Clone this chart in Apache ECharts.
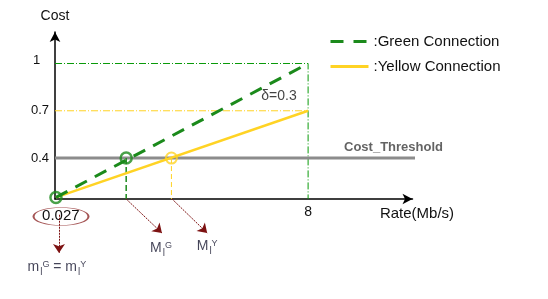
<!DOCTYPE html>
<html>
<head>
<meta charset="utf-8">
<script src="https://cdn.jsdelivr.net/npm/echarts@6/dist/echarts.min.js"></script>
<style>html,body{margin:0;padding:0;background:#fff}#c{width:548px;height:299px}</style>
</head>
<body>
<div id="c"></div>
<script>
// ---- data ----
const xTickValues = [0.027, 8];
const yTickValues = [0.4, 0.7, 1];
const seriesNames = ['Green Connection', 'Yellow Connection'];
const greenLine = [[0.03, 0.15], [8, 1]];
const yellowLine = [[0.03, 0.15], [8, 0.7]];
const thresholdLine = [[0, 0.4], [11.5, 0.4]];
const greenGuide = [[0, 1], [8, 1], [8, 0.14]];
const yellowGuide = [[0, 0.7], [8, 0.7]];
const greenCross = [2.25, 0.4];
const yellowCross = [3.68, 0.4];
const startPoint = [0.03, 0.15];
const greenDrop = [[2.25, 0.4], [2.25, 0.14]];
const yellowDrop = [[3.68, 0.4], [3.68, 0.14]];
const arrowLines = [
  [[2.25, 0.14], [3.38, -0.076]],
  [[3.70, 0.14], [4.81, -0.076]],
  [[0.126, 0.04], [0.126, -0.203]]
];
const minLabelPos = [0.19, 0.029];
const annotations = [
  { pos: [7.08, 0.79], text: 'δ=0.3', style: 'plain' },
  { pos: [10.70, 0.467], text: 'Cost_Threshold', style: 'bold' },
  { pos: [3.35, -0.171], text: '{m|M}{sub|l}{sup|G}', style: 'rich' },
  { pos: [4.81, -0.158], text: '{m|M}{sub|l}{sup|Y}', style: 'rich' },
  { pos: [0.06, -0.292], text: '{m|m}{sub|l}{sup|G}{m| = m}{sub|l}{sup|Y}', style: 'rich' }
];

const FONT = '"Liberation Sans", Arial, sans-serif';
const GREEN = '#1b8a1b';
const YELLOW = '#ffd324';
const DARKRED = '#7d1212';

const richMath = {
  m: { fontSize: 14, fontFamily: FONT, color: '#15152e' },
  sub: { fontSize: 10, fontFamily: FONT, color: '#15152e', padding: [10, 0, 0, 1] },
  sup: { fontSize: 9, fontFamily: FONT, color: '#15152e', padding: [0, 0, 5, 0] }
};

const annoData = annotations.map(a => {
  let label;
  if (a.style === 'rich') {
    label = { show: true, position: 'inside', formatter: a.text, rich: richMath };
  } else if (a.style === 'bold') {
    label = { show: true, position: 'inside', formatter: a.text, fontSize: 13, fontWeight: 'bold', color: '#3c3c3c', fontFamily: FONT };
  } else {
    label = { show: true, position: 'inside', formatter: a.text, fontSize: 14, color: '#111', fontFamily: FONT };
  }
  return { value: a.pos, label: label };
});

const chart = echarts.init(document.getElementById('c'), null, { renderer: 'canvas' });
chart.setOption({
  animation: false,
  backgroundColor: '#fff',
  textStyle: { fontFamily: FONT },
  grid: { left: 55, top: 32, width: 357.5, height: 167, containLabel: false },
  legend: {
    data: [
      { name: seriesNames[0], itemStyle: { opacity: 0 }, lineStyle: { color: GREEN, width: 3, type: [13, 10] } },
      { name: seriesNames[1], itemStyle: { opacity: 0 }, lineStyle: { color: YELLOW, width: 3, type: 'solid' } }
    ],
    orient: 'vertical',
    left: 329,
    top: 34,
    padding: 0,
    itemWidth: 38,
    itemHeight: 14,
    itemGap: 10,
    formatter: n => ':' + n,
    textStyle: { fontSize: 15, color: '#111', fontFamily: FONT, padding: [0, 0, 0, 0] }
  },
  xAxis: {
    type: 'value', min: 0, max: 11.3,
    name: 'Rate(Mb/s)', nameLocation: 'end', nameGap: 4.5,
    nameTextStyle: { fontSize: 15, color: '#111', align: 'center', verticalAlign: 'top', padding: [7, 0, 0, 0], fontFamily: FONT },
    axisLine: { show: true, symbol: ['none', 'arrow'], symbolSize: [8, 10], lineStyle: { color: '#000', width: 1.5 } },
    axisTick: { show: false },
    splitLine: { show: false },
    axisLabel: {
      customValues: xTickValues, margin: 6, fontSize: 14, color: '#111', fontFamily: FONT,
      formatter: v => v < 1 ? '{a|' + v + '}' : String(v),
      rich: { a: { fontSize: 15, color: '#111', fontFamily: FONT, padding: [3, 0, 0, 10] } }
    }
  },
  yAxis: {
    type: 'value', min: 0.14, max: 1.2,
    name: 'Cost', nameLocation: 'end', nameGap: 9,
    nameTextStyle: { fontSize: 14, color: '#111', align: 'center', fontFamily: FONT },
    axisLine: { show: true, symbol: ['none', 'arrow'], symbolSize: [8, 10], lineStyle: { color: '#000', width: 1.5 } },
    axisTick: { show: false },
    splitLine: { show: false },
    axisLabel: {
      customValues: yTickValues, align: 'left', margin: 24, fontSize: 13, color: '#111', fontFamily: FONT,
      formatter: v => v === 1 ? '{t|1}' : String(v),
      rich: { t: { fontSize: 13, color: '#111', fontFamily: FONT, padding: [0, 0, 6, 2] } }
    }
  },
  series: [
    { name: 'guideGreen', type: 'line', data: greenGuide, symbol: 'none', clip: false, silent: true, z: 1,
      lineStyle: { color: '#0a9a0a', width: 1, type: [7, 2, 1, 2] } },
    { name: 'guideYellow', type: 'line', data: yellowGuide, symbol: 'none', clip: false, silent: true, z: 1,
      lineStyle: { color: YELLOW, width: 1, type: [7, 2, 1, 2] } },
    { name: 'Cost_Threshold', type: 'line', data: thresholdLine, symbol: 'none', clip: false, z: 2,
      lineStyle: { color: '#8c8c8c', width: 3 } },
    { name: 'dropGreen', type: 'line', data: greenDrop, symbol: 'none', clip: false, z: 2,
      lineStyle: { color: GREEN, width: 1.5, type: [6, 3] } },
    { name: 'dropYellow', type: 'line', data: yellowDrop, symbol: 'none', clip: false, z: 2,
      lineStyle: { color: YELLOW, width: 1, type: [5, 3] } },
    { name: 'Yellow Connection', type: 'line', data: yellowLine, symbol: 'none', clip: false, z: 3,
      itemStyle: { color: YELLOW }, lineStyle: { color: YELLOW, width: 2.5 } },
    { name: 'Green Connection', type: 'line', data: greenLine, symbol: 'none', clip: false, z: 4,
      itemStyle: { color: GREEN }, lineStyle: { color: GREEN, width: 3, type: [13, 9] } },
    { name: 'markers', type: 'scatter', clip: false, z: 5,
      data: [
        { value: startPoint, symbolSize: 11, itemStyle: { color: 'rgba(0,0,0,0)', borderColor: GREEN, borderWidth: 2.5 } },
        { value: greenCross, symbolSize: 11, itemStyle: { color: 'rgba(0,0,0,0)', borderColor: GREEN, borderWidth: 2.5 } },
        { value: yellowCross, symbolSize: 11, itemStyle: { color: 'rgba(0,0,0,0)', borderColor: YELLOW, borderWidth: 2 } },
        { value: minLabelPos, symbolSize: [55, 18], itemStyle: { color: 'rgba(0,0,0,0)', borderColor: '#8e2a2a', borderWidth: 1.2 } }
      ] },
    { name: 'arrows', type: 'lines', coordinateSystem: 'cartesian2d', clip: false, z: 5,
      symbol: ['none', 'arrow'], symbolSize: 9,
      lineStyle: { color: DARKRED, width: 1, type: [2, 1], opacity: 1 },
      data: arrowLines.map(c => ({ coords: c })) },
    { name: 'annotations', type: 'scatter', clip: false, z: 6, symbolSize: 0,
      itemStyle: { color: 'rgba(0,0,0,0)' }, data: annoData }
  ]
});
</script>
</body>
</html>
